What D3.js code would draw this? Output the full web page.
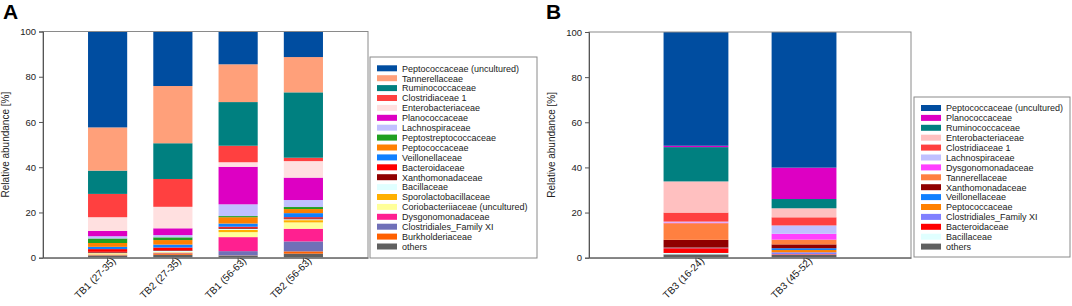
<!DOCTYPE html>
<html>
<head>
<meta charset="utf-8">
<script src="https://cdn.jsdelivr.net/npm/d3@7"></script>
<style>
  body { margin: 0; background: #fff; }
  svg { display: block; font-family: Arial, "Liberation Sans", sans-serif; }
</style>
</head>
<body>
<div id="chart"></div>
<script>
// Panel A: taxa in legend order (top of stack first)
const taxaA = [
  "Peptococcaceae (uncultured)", "Tannerellaceae", "Ruminococcaceae", "Clostridiaceae 1",
  "Enterobacteriaceae", "Planococcaceae", "Lachnospiraceae", "Peptostreptococcaceae",
  "Peptococcaceae", "Veillonellaceae", "Bacteroidaceae", "Xanthomonadaceae",
  "Bacillaceae", "Sporolactobacillaceae", "Coriobacteriiaceae (uncultured)",
  "Dysgonomonadaceae", "Clostridiales_Family XI", "Burkholderiaceae", "others"
];
const colorsA = [
  "#004da0", "#ffa07a", "#008080", "#ff4040", "#ffe0e0", "#dd00c3", "#c0c0ff", "#20a020",
  "#ff8000", "#1080ff", "#ff0000", "#900000", "#e0ffff", "#ffb000", "#ffff99",
  "#ff2090", "#7070b8", "#ff6000", "#606060"
];
const samplesA = ["TB1 (27-35)", "TB2 (27-35)", "TB1 (56-63)", "TB2 (56-63)"];
const tb1_27_35 = [42.4, 19.1, 10.3, 10.3, 6.1, 2.3, 1.0, 2.0, 1.7, 1.0, 1.2, 0.4, 0.3, 0.4, 0.2, 0.1, 0.1, 0.2, 0.9];
const tb2_27_35 = [24.1, 25.3, 15.8, 12.3, 9.5, 3.0, 1.0, 1.2, 2.0, 1.3, 1.2, 0.3, 0.6, 0.2, 0.1, 0.1, 0.1, 0.6, 1.3];
const tb1_56_63 = [14.5, 16.7, 19.3, 7.3, 2.0, 16.6, 5.2, 0.5, 2.8, 1.4, 0.5, 0.4, 0.5, 1.0, 2.2, 6.2, 1.9, 0.1, 0.9];
const tb2_56_63 = [11.3, 15.6, 28.9, 1.5, 7.3, 9.9, 3.1, 0.9, 1.8, 1.8, 0.5, 0.4, 0.4, 1.0, 2.8, 5.6, 4.4, 1.0, 1.8];

// Panel B
const taxaB = [
  "Peptococcaceae (uncultured)", "Planococcaceae", "Ruminococcaceae", "Enterobacteriaceae",
  "Clostridiaceae 1", "Lachnospiraceae", "Dysgonomonadaceae", "Tannerellaceae",
  "Xanthomonadaceae", "Veillonellaceae", "Peptococcaceae", "Clostridiales_Family XI",
  "Bacteroidaceae", "Bacillaceae", "others"
];
const colorsB = [
  "#004da0", "#dd00c3", "#008080", "#ffc0c0", "#ff4040", "#c0c0ff", "#ff40ff", "#ff8040",
  "#900000", "#1080ff", "#ff8000", "#8080ff", "#ff0000", "#e0ffff", "#606060"
];
const samplesB = ["TB3 (16-24)", "TB3 (45-52)"];
const tb3_16_24 = [50.4, 0.6, 15.2, 13.8, 4.0, 0.4, 0.3, 7.4, 3.4, 0.1, 0.1, 0.1, 2.1, 0.6, 1.5];
const tb3_45_52 = [60.1, 13.9, 4.1, 4.0, 3.6, 3.7, 2.6, 2.1, 1.7, 0.8, 1.0, 0.8, 0.2, 0.1, 1.3];

const yTicks = [0, 20, 40, 60, 80, 100];

const svg = d3.select("#chart").append("svg").attr("width", 1072).attr("height", 306);

function drawPanel(p) {
  const table = p.samples.map((s, i) => {
    const row = { sample: s };
    p.taxa.forEach((t, j) => (row[t] = p.values[i][j]));
    return row;
  });

  const x = d3.scaleBand().domain(p.samples).range([p.left, p.right])
    .paddingInner(0.4).paddingOuter(0.69);
  const y = d3.scaleLinear().domain([0, 100]).range([p.bottom, p.top]);
  const color = d3.scaleOrdinal().domain(p.taxa).range(p.colors);

  // stack: "others" at the bottom, first legend entry at the top
  const series = d3.stack().keys(p.taxa.slice().reverse())(table);

  const g = svg.append("g");

  g.selectAll("g.layer")
    .data(series)
    .join("g")
    .attr("class", "layer")
    .attr("fill", (d) => color(d.key))
    .selectAll("rect")
    .data((d) => d)
    .join("rect")
    .attr("x", (d) => x(d.data.sample))
    .attr("width", x.bandwidth())
    .attr("y", (d) => y(d[1]))
    .attr("height", (d) => y(d[0]) - y(d[1]));

  // frame
  g.append("rect")
    .attr("x", p.left).attr("y", p.top)
    .attr("width", p.right - p.left).attr("height", p.bottom - p.top)
    .attr("fill", "none").attr("stroke", "#8a8a8a").attr("stroke-width", 1);

  const yAxis = g.append("g")
    .attr("transform", `translate(${p.left},0)`)
    .call(d3.axisLeft(y).tickValues(yTicks).tickSize(4).tickPadding(3));
  yAxis.select(".domain").attr("stroke", "#555");
  yAxis.selectAll(".tick line").attr("stroke", "#555");
  yAxis.selectAll("text").attr("font-size", "9.5px").attr("fill", "#222")
    .attr("font-family", "Arial, 'Liberation Sans', sans-serif");

  const xAxis = g.append("g")
    .attr("transform", `translate(0,${p.bottom})`)
    .call(d3.axisBottom(x).tickSize(4).tickSizeOuter(0));
  xAxis.select(".domain").attr("stroke", "#555");
  xAxis.selectAll(".tick line").attr("stroke", "#555");
  xAxis.selectAll("text")
    .attr("font-size", "10px").attr("fill", "#222")
    .attr("font-family", "Arial, 'Liberation Sans', sans-serif")
    .attr("text-anchor", "end")
    .attr("dx", "0.35em").attr("dy", "0.2em")
    .attr("transform", "rotate(-45)");

  g.append("text")
    .attr("transform", `translate(${p.ylabelX},${(p.top + p.bottom) / 2}) rotate(-90)`)
    .attr("text-anchor", "middle")
    .attr("font-size", "10px")
    .attr("fill", "#222")
    .text("Relative abundance [%]");

  g.append("text")
    .attr("x", p.letterX).attr("y", 19)
    .attr("font-size", "21px").attr("font-weight", "bold")
    .text(p.letter);

  // legend
  const lg = g.append("g");
  lg.append("rect")
    .attr("x", p.legX).attr("y", p.legTop)
    .attr("width", p.legW).attr("height", p.legBottom - p.legTop)
    .attr("fill", "#fff").attr("stroke", "#8a8a8a");
  const item = lg.selectAll("g.item")
    .data(p.taxa)
    .join("g")
    .attr("class", "item")
    .attr("transform", (d, i) => `translate(${p.legX + 7},${p.legFirst + i * 9.9})`);
  item.append("rect")
    .attr("x", 0).attr("y", -3).attr("width", 20).attr("height", 6)
    .attr("fill", (d) => color(d));
  item.append("text")
    .attr("x", 25).attr("y", 3.3)
    .attr("font-size", "9px").attr("fill", "#222")
    .text((d) => d);
}

drawPanel({
  letter: "A", letterX: 3, ylabelX: 9,
  left: 43, right: 368, top: 31.5, bottom: 257.7,
  samples: samplesA, taxa: taxaA, colors: colorsA,
  values: [tb1_27_35, tb2_27_35, tb1_56_63, tb2_56_63],
  legX: 370, legW: 167, legTop: 57, legBottom: 258, legFirst: 68.3
});

drawPanel({
  letter: "B", letterX: 546, ylabelX: 555,
  left: 589, right: 911, top: 32, bottom: 257.7,
  samples: samplesB, taxa: taxaB, colors: colorsB,
  values: [tb3_16_24, tb3_45_52],
  legX: 914, legW: 156, legTop: 97, legBottom: 257, legFirst: 108
});
</script>
</body>
</html>
